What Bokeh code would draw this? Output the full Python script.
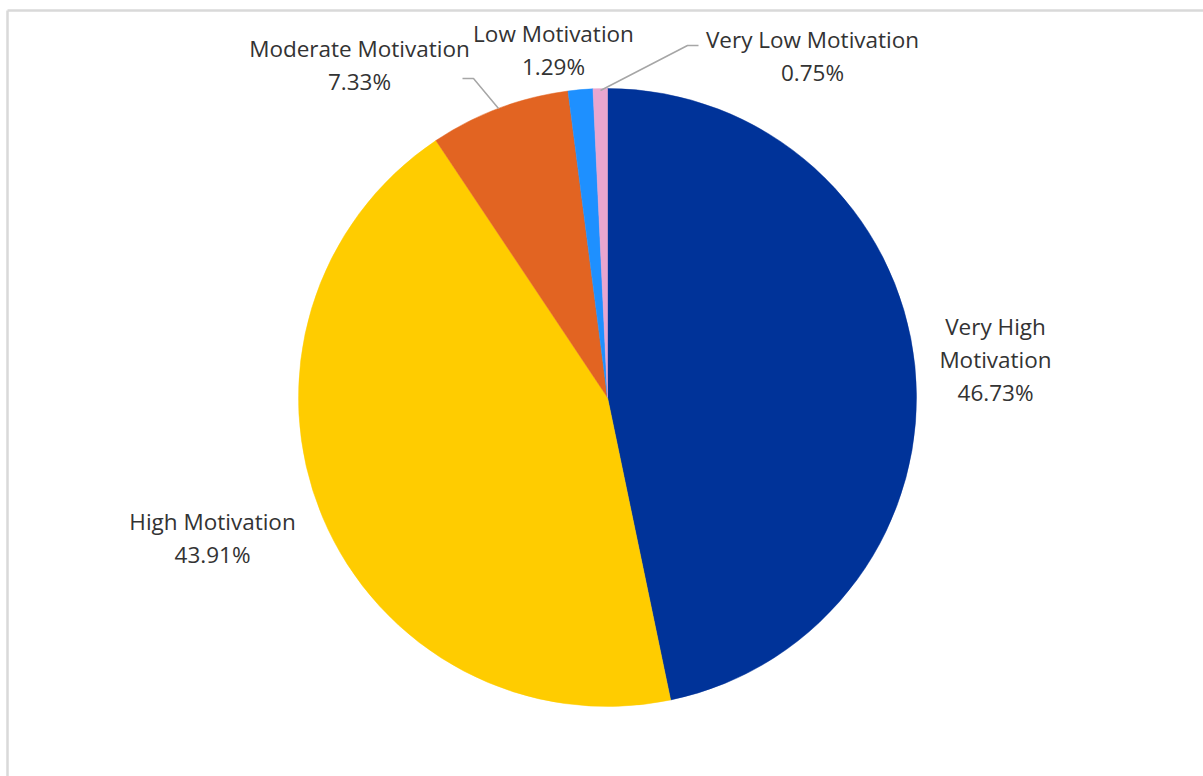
import math
from bokeh.plotting import figure
from bokeh.models import Range1d, ColumnDataSource
from bokeh.core.properties import value
from bokeh.embed import file_html
from bokeh.resources import INLINE

# ---- data ----
categories = ["Very High Motivation", "High Motivation", "Moderate Motivation",
              "Low Motivation", "Very Low Motivation"]
shares = [46.73, 43.91, 7.33, 1.29, 0.75]
colors = ["#003399", "#FFCC00", "#E26422", "#1E90FF", "#E8A6CF"]
label_lines = [["Very High", "Motivation"], ["High Motivation"], ["Moderate Motivation"],
               ["Low Motivation"], ["Very Low Motivation"]]

# ---- layout (pixels, origin top-left) ----
W, H = 1203, 776
CX, CY, R = 607, 397, 309
label_x = [995, 212, 359, 553, 812]
label_base_y = [326, 521, 48, 33, 39]
LINE_STEP = 33
leaders = {2: [(462, 78), (473, 78), (498, 108)],
           4: [(600, 90), (687, 45), (698, 45)]}
FONT = "Open Sans"
FS = "22.5px"
TXT = "#333333"


def fy(y):
    return H - y


p = figure(width=W, height=H, x_range=Range1d(0, W), y_range=Range1d(0, H),
           output_backend="svg", toolbar_location=None,
           x_axis_location=None, y_axis_location=None, min_border=0)
p.grid.visible = False
p.outline_line_color = None
p.background_fill_color = "white"
p.border_fill_color = "white"

# chart area border (left and top edges visible)
p.line([7, 7], [fy(10), fy(H + 20)], line_color="#d9d9d9", line_width=2.5)
p.line([7, W + 20], [fy(10), fy(10)], line_color="#d9d9d9", line_width=2.5)

# wedges
total = sum(shares)
starts, ends = [], []
cum = 0.0
for s in shares:
    starts.append(math.pi / 2 - cum / total * 2 * math.pi)
    cum += s
    ends.append(math.pi / 2 - cum / total * 2 * math.pi)
src = ColumnDataSource(dict(start=starts, end=ends, color=colors, cat=categories))
p.wedge(x=CX, y=fy(CY), radius=R, start_angle="start", end_angle="end",
        direction="clock", fill_color="color", line_color="color", line_width=0.5,
        source=src)

# leader lines
for i, pts in leaders.items():
    p.line([q[0] for q in pts], [fy(q[1]) for q in pts], line_color="#a6a6a6", line_width=1.5)

# labels
tx, ty, tt = [], [], []
for i, cat in enumerate(categories):
    lines = label_lines[i] + [f"{shares[i]:.2f}%"]
    for k, ln in enumerate(lines):
        tx.append(label_x[i])
        ty.append(fy(label_base_y[i] + k * LINE_STEP))
        tt.append(ln)
p.text(x=tx, y=ty, text=tt, text_align="center", text_baseline="alphabetic",
       text_font=value(FONT), text_font_size=FS, text_color=TXT)

open("out.html", "w").write(file_html(p, INLINE))
